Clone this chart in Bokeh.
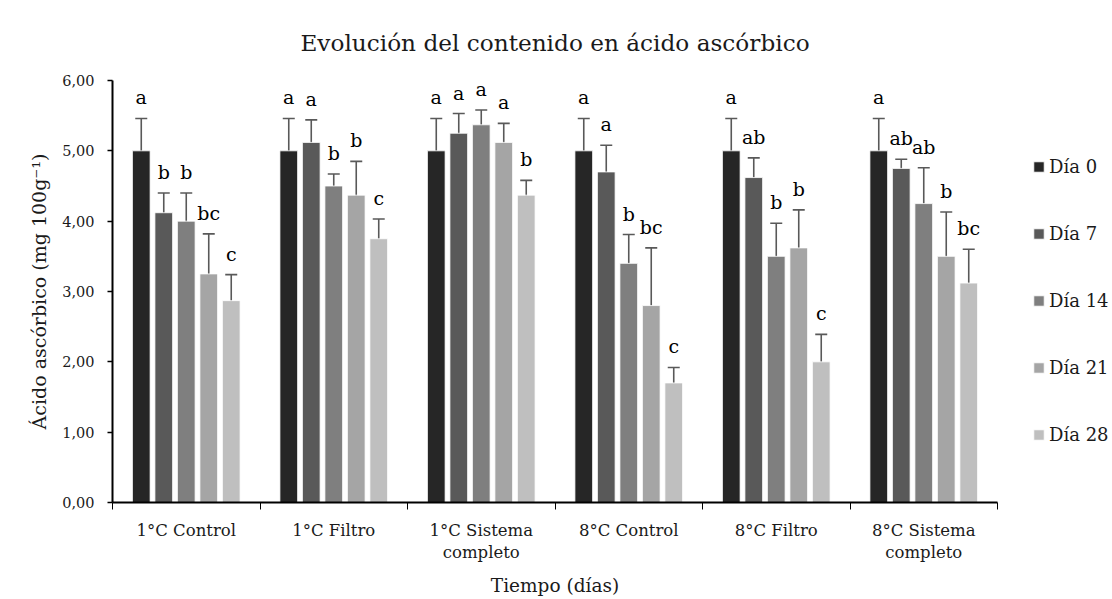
from bokeh.plotting import figure
from bokeh.models import (ColumnDataSource, Range1d, LinearAxis,
                          FixedTicker, Whisker, TeeHead, Legend, LegendItem)
from bokeh.transform import dodge
from bokeh.core.properties import value
from bokeh.embed import file_html
from bokeh.resources import INLINE

FONT = "DejaVu Serif"

title_text = "Evolución del contenido en ácido ascórbico"
x_title = "Tiempo (días)"
y_title = "Ácido ascórbico (mg 100g⁻¹)"

categories = ["1°C Control", "1°C Filtro", "1°C Sistema\ncompleto",
              "8°C Control", "8°C Filtro", "8°C Sistema\ncompleto"]
series_names = ["Día 0", "Día 7", "Día 14", "Día 21", "Día 28"]

dia0 = [5.00, 5.00, 5.00, 5.00, 5.00, 5.00]
dia0_err = [0.46, 0.46, 0.46, 0.46, 0.46, 0.46]
dia0_let = ["a", "a", "a", "a", "a", "a"]

dia7 = [4.12, 5.12, 5.25, 4.70, 4.62, 4.75]
dia7_err = [0.28, 0.32, 0.28, 0.38, 0.28, 0.13]
dia7_let = ["b", "a", "a", "a", "ab", "ab"]

dia14 = [4.00, 4.50, 5.37, 3.40, 3.50, 4.25]
dia14_err = [0.40, 0.17, 0.21, 0.41, 0.47, 0.51]
dia14_let = ["b", "b", "a", "b", "b", "ab"]

dia21 = [3.25, 4.37, 5.12, 2.80, 3.62, 3.50]
dia21_err = [0.57, 0.48, 0.27, 0.82, 0.54, 0.63]
dia21_let = ["bc", "b", "a", "bc", "b", "b"]

dia28 = [2.87, 3.75, 4.37, 1.70, 2.00, 3.12]
dia28_err = [0.37, 0.28, 0.21, 0.22, 0.39, 0.48]
dia28_let = ["c", "c", "b", "c", "c", "bc"]

y_ticks = [0, 1, 2, 3, 4, 5, 6]
y_tick_labels = ["0,00", "1,00", "2,00", "3,00", "4,00", "5,00", "6,00"]

series_values = [dia0, dia7, dia14, dia21, dia28]
series_errors = [dia0_err, dia7_err, dia14_err, dia21_err, dia28_err]
series_letters = [dia0_let, dia7_let, dia14_let, dia21_let, dia28_let]
colors = ["#262626", "#595959", "#7f7f7f", "#a5a5a5", "#bfbfbf"]
offsets = [-0.305, -0.1525, 0.0, 0.1525, 0.305]

n = len(categories)
centers = [i + 0.5 for i in range(n)]
bounds = list(range(n + 1))

p = figure(x_range=Range1d(0, n), y_range=Range1d(y_ticks[0], y_ticks[-1]),
           frame_width=885, frame_height=422,
           min_border_left=112, min_border_top=80,
           min_border_right=113, min_border_bottom=95,
           output_backend="svg", toolbar_location=None,
           x_axis_location=None, title=title_text)

p.title.align = "center"
p.title.vertical_align = "top"
p.title.standoff = 46
p.title.text_font = FONT
p.title.text_font_size = "23.2px"
p.title.text_font_style = "normal"
p.title.text_color = "#1a1a1a"

p.xgrid.visible = False
p.ygrid.visible = False
p.outline_line_color = None

items = []
for name, vals, errs, lets, col, off in zip(series_names, series_values, series_errors,
                                              series_letters, colors, offsets):
    src = ColumnDataSource(dict(
        x=centers, top=vals,
        upper=[v + e for v, e in zip(vals, errs)],
        lower=[v - e for v, e in zip(vals, errs)],
        letter=lets))
    xd = dodge("x", off)
    r = p.vbar(x=xd, top="top", width=0.12, source=src,
               fill_color=col, line_color="white", line_width=0.8)
    w = Whisker(source=src, base=xd, upper="upper", lower="lower",
                line_color="#595959", line_width=1.6,
                upper_head=TeeHead(size=12, line_color="#595959", line_width=1.6),
                lower_head=TeeHead(size=12, line_color="#595959", line_width=1.6))
    p.add_layout(w)
    p.text(x=xd, y="upper", text="letter", source=src,
           text_align="center", text_baseline="alphabetic", y_offset=-21,
           text_font=value(FONT), text_font_size="19px", text_color="black")
    items.append(LegendItem(label=name, renderers=[r]))

# y axis
yax = p.yaxis[0]
yax.ticker = FixedTicker(ticks=y_ticks)
yax.major_label_overrides = {t: l for t, l in zip(y_ticks, y_tick_labels)}
yax.axis_line_width = 2
yax.axis_line_color = "black"
yax.major_tick_line_color = "black"
yax.major_tick_line_width = 1.5
yax.major_tick_out = 5
yax.major_tick_in = 0
yax.minor_tick_line_color = None
yax.major_label_text_font = FONT
yax.major_label_text_font_size = "14.5px"
yax.major_label_text_color = "#1a1a1a"
yax.major_label_standoff = 13
yax.axis_label = y_title
yax.axis_label_text_font = FONT
yax.axis_label_text_font_size = "19px"
yax.axis_label_text_font_style = "normal"
yax.axis_label_text_color = "#1a1a1a"
yax.axis_label_standoff = 9

# x axis: boundary tick marks (inner) + category labels (outer)
tick_axis = LinearAxis(ticker=FixedTicker(ticks=bounds),
                       major_label_overrides={b: "" for b in bounds},
                       axis_line_color="black", axis_line_width=2,
                       major_tick_line_color="black", major_tick_line_width=1,
                       major_tick_out=7, major_tick_in=0,
                       minor_tick_line_color=None,
                       major_label_text_font_size="1px", major_label_standoff=0)
label_axis = LinearAxis(ticker=FixedTicker(ticks=centers),
                        major_label_overrides={c: l for c, l in zip(centers, categories)},
                        axis_line_color=None, major_tick_line_color=None,
                        minor_tick_line_color=None,
                        major_label_text_font=FONT, major_label_text_font_size="16.5px",
                        major_label_text_color="#1a1a1a",
                        major_label_standoff=5,
                        axis_label=x_title, axis_label_text_font=FONT,
                        axis_label_text_font_size="18.5px",
                        axis_label_text_color="#1a1a1a",
                        axis_label_text_font_style="normal", axis_label_standoff=10)
p.add_layout(tick_axis, "below")
p.add_layout(label_axis, "below")

legend = Legend(items=items, location=(35, 56), orientation="vertical",
                border_line_color=None, background_fill_alpha=0,
                label_text_font=FONT, label_text_font_size="18px",
                label_text_color="#1a1a1a",
                glyph_width=13, glyph_height=13, label_standoff=4,
                label_height=24, spacing=43, margin=0, padding=0)
p.add_layout(legend, "right")

open("out.html", "w").write(file_html(p, INLINE))
